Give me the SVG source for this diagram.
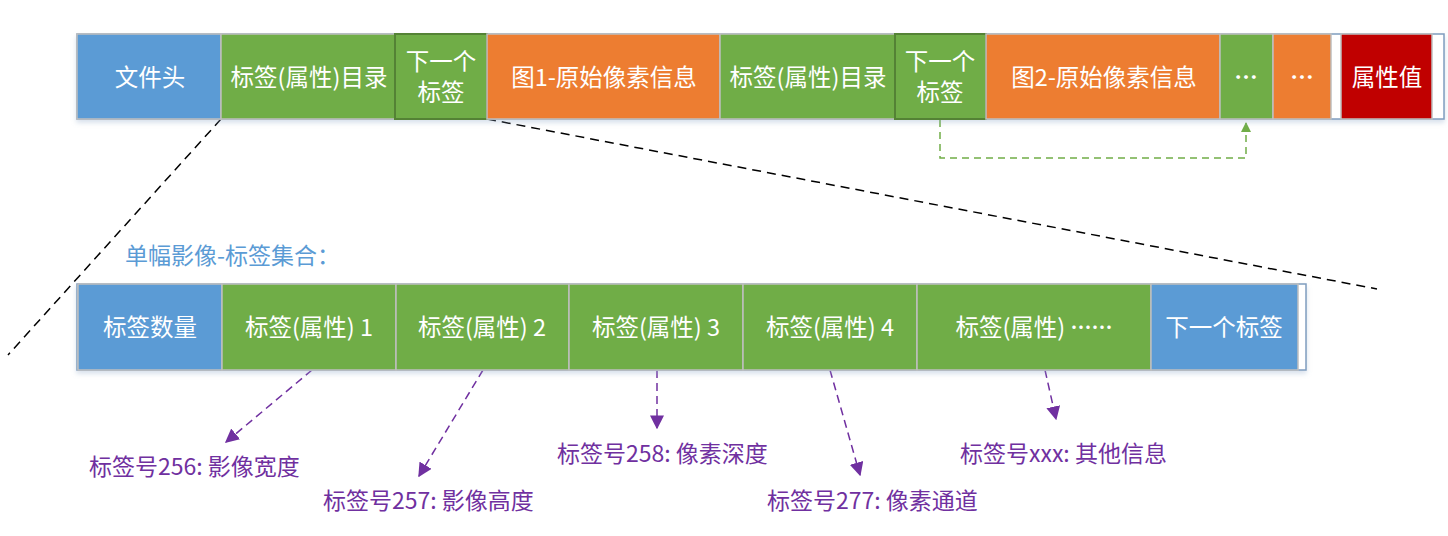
<svg xmlns="http://www.w3.org/2000/svg" width="1448" height="536" viewBox="0 0 1448 536">
<defs>
<filter id="sh" x="-5%" y="-20%" width="110%" height="160%">
<feDropShadow dx="0" dy="3" stdDeviation="2.5" flood-color="#8FA6C8" flood-opacity="0.35"/>
</filter>
<marker id="ag" viewBox="0 0 10 10" refX="9" refY="5" markerWidth="10" markerHeight="10" markerUnits="userSpaceOnUse" orient="auto">
<path d="M0,0 L10,5 L0,10 z" fill="#70AD47"/>
</marker>
<marker id="ap" viewBox="0 0 10 10" refX="9" refY="5" markerWidth="14" markerHeight="14" markerUnits="userSpaceOnUse" orient="auto">
<path d="M0,0 L10,5 L0,10 z" fill="#7030A0"/>
</marker>
</defs>
<style>
text{font-family:"Noto Sans CJK SC","Liberation Sans",sans-serif}
.c{stroke:#BFBFBF;stroke-width:1.5}
.b{fill:#5B9BD5}.g{fill:#70AD47}.o{fill:#ED7D31}.r{fill:#C00000}
.gd{fill:#70AD47;stroke:#548235;stroke-width:2}
.t{fill:#fff;font-size:23.5px;text-anchor:middle;dominant-baseline:central}
.dots{font-weight:bold}
.frame{fill:#fff;stroke:#7F9DBF;stroke-width:1.5}
.lbl{fill:#7030A0;font-size:23px}
.pd{stroke:#7030A0;stroke-width:1.5;stroke-dasharray:8 5;fill:none}
</style>
<rect width="1448" height="536" fill="#fff"/>

<g id="connectors">
<line x1="221" y1="119" x2="8" y2="355" stroke="#000" stroke-width="1.5" stroke-dasharray="9 6"/>
<line x1="487" y1="119" x2="1377" y2="289" stroke="#000" stroke-width="1.5" stroke-dasharray="9 6"/>
<polyline points="940,120 940,158 1246,158 1246,123" fill="none" stroke="#70AD47" stroke-width="1.5" stroke-dasharray="7 5" marker-end="url(#ag)"/>
<line class="pd" x1="312" y1="370" x2="226" y2="442" marker-end="url(#ap)"/>
<line class="pd" x1="483" y1="370" x2="419" y2="476" marker-end="url(#ap)"/>
<line class="pd" x1="657" y1="370" x2="657" y2="428" marker-end="url(#ap)"/>
<line class="pd" x1="830" y1="370" x2="860" y2="475" marker-end="url(#ap)"/>
<line class="pd" x1="1045" y1="370" x2="1056" y2="419" marker-end="url(#ap)"/>
</g>

<g id="topbar" filter="url(#sh)">
<rect class="frame" x="77" y="34" width="1367" height="85"/>
</g>
<g id="n-filehead"><rect class="b c" x="77" y="34" width="144" height="85"/><text class="t" x="150" y="76">文件头</text></g>
<g id="n-dir1"><rect class="g c" x="221" y="34" width="174" height="85"/><text class="t" x="309" y="76">标签(属性)目录</text></g>
<g id="n-next1"><rect class="gd" x="395" y="34" width="92" height="85"/><text class="t" x="441" y="60">下一个</text><text class="t" x="441" y="91">标签</text></g>
<g id="n-img1"><rect class="o c" x="487" y="34" width="233" height="85"/><text class="t" x="604" y="76">图1-原始像素信息</text></g>
<g id="n-dir2"><rect class="g c" x="720" y="34" width="175" height="85"/><text class="t" x="808" y="76">标签(属性)目录</text></g>
<g id="n-next2"><rect class="gd" x="895" y="34" width="91" height="85"/><text class="t" x="940" y="60">下一个</text><text class="t" x="940" y="91">标签</text></g>
<g id="n-img2"><rect class="o c" x="986" y="34" width="234" height="85"/><text class="t" x="1104" y="76">图2-原始像素信息</text></g>
<g id="n-dots1"><rect class="g c" x="1220" y="34" width="53" height="85"/><text class="t dots" x="1246" y="76" font-size="21">…</text></g>
<g id="n-dots2"><rect class="o c" x="1273" y="34" width="58" height="85"/><text class="t dots" x="1302" y="76" font-size="21">…</text></g>
<g id="n-attr"><rect class="r c" x="1341" y="34" width="91" height="85"/><text class="t" x="1387" y="76">属性值</text></g>

<g id="subtitle"><text x="125" y="264" fill="#5B9BD5" font-size="23">单幅影像-标签集合：</text></g>

<g id="bottombar" filter="url(#sh)">
<rect class="frame" x="77" y="284" width="1229" height="86"/>
</g>
<g id="n-count"><rect class="b c" x="78" y="284" width="144" height="86"/><text class="t" x="150" y="326">标签数量</text></g>
<g id="n-tag1"><rect class="g c" x="222" y="284" width="174" height="86"/><text class="t" x="309" y="326">标签(属性) 1</text></g>
<g id="n-tag2"><rect class="g c" x="396" y="284" width="173" height="86"/><text class="t" x="482" y="326">标签(属性) 2</text></g>
<g id="n-tag3"><rect class="g c" x="569" y="284" width="174" height="86"/><text class="t" x="656" y="326">标签(属性) 3</text></g>
<g id="n-tag4"><rect class="g c" x="743" y="284" width="174" height="86"/><text class="t" x="830" y="326">标签(属性) 4</text></g>
<g id="n-tagn"><rect class="g c" x="917" y="284" width="234" height="86"/><text class="t" x="1034" y="326">标签(属性) <tspan font-size="21" font-weight="bold">……</tspan></text></g>
<g id="n-nexttag"><rect class="b c" x="1151" y="284" width="147" height="86"/><text class="t" x="1224" y="326">下一个标签</text></g>

<g id="labels">
<text class="lbl" x="89" y="475">标签号256: 影像宽度</text>
<text class="lbl" x="323" y="509">标签号257: 影像高度</text>
<text class="lbl" x="557" y="462">标签号258: 像素深度</text>
<text class="lbl" x="767" y="509">标签号277: 像素通道</text>
<text class="lbl" x="960" y="462">标签号xxx: 其他信息</text>
</g>
</svg>
